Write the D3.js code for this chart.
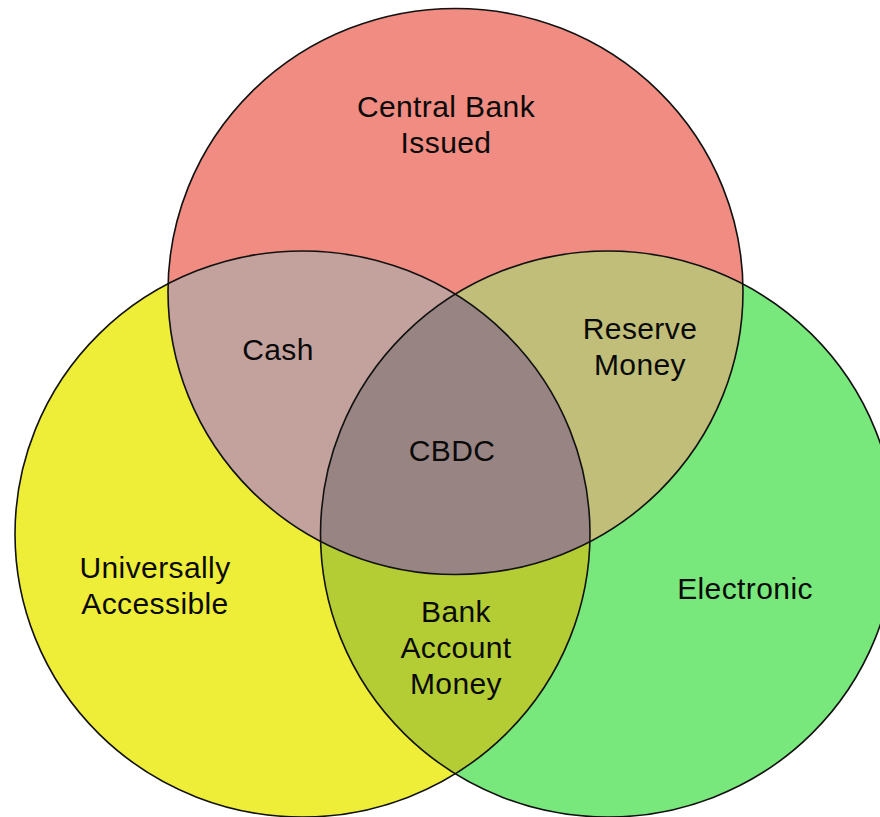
<!DOCTYPE html>
<html>
<head>
<meta charset="utf-8">
<script src="https://cdn.jsdelivr.net/npm/d3@7"></script>
<style>
  html, body { margin: 0; padding: 0; background: #fff; overflow: hidden; }
</style>
</head>
<body>
<div id="chart"></div>
<script>
// sets of the diagram
const setNames = ["Central Bank Issued", "Universally Accessible", "Electronic"];
const setLines = [["Central Bank", "Issued"], ["Universally", "Accessible"], ["Electronic"]];

// overlap regions (indexes into setNames)
const regionSets = [[0, 1], [0, 2], [1, 2], [0, 1, 2]];
const regionLines = [["Cash"], ["Reserve", "Money"], ["Bank", "Account", "Money"], ["CBDC"]];

// colours
const setColors = ["#f08c82", "#eeee38", "#78e87c"];
const regionColors = ["#c3a29e", "#c0be78", "#b4cd34", "#988583"];

// layout, kept apart from the data
const width = 880, height = 817;
const circleLayout = [
  {cx: 455.5, cy: 291.5},
  {cx: 302.5, cy: 534},
  {cx: 608, cy: 534}
];
const rx = 287.5, ry = 283;
const setLabelPos = [{x: 446, y: 117}, {x: 155, y: 578}, {x: 745, y: 599}];
const regionLabelPos = [{x: 278, y: 360}, {x: 640, y: 339}, {x: 456, y: 622}, {x: 452, y: 461}];
const lineHeight = 36;

const svg = d3.select("#chart").append("svg")
  .attr("width", width)
  .attr("height", height);

const defs = svg.append("defs");
circleLayout.forEach((c, i) => {
  defs.append("clipPath")
    .attr("id", "clip" + i)
    .append("ellipse")
    .attr("cx", c.cx).attr("cy", c.cy)
    .attr("rx", rx).attr("ry", ry);
});

// base circles
svg.append("g").selectAll("ellipse")
  .data(circleLayout)
  .enter().append("ellipse")
  .attr("cx", d => d.cx).attr("cy", d => d.cy)
  .attr("rx", rx).attr("ry", ry)
  .style("fill", (d, i) => setColors[i]);

// overlaps, drawn through nested clips
const overlaps = svg.append("g");
regionSets.forEach((s, k) => {
  let g = overlaps;
  for (let j = 0; j < s.length - 1; j++) {
    g = g.append("g").attr("clip-path", "url(#clip" + s[j] + ")");
  }
  const c = circleLayout[s[s.length - 1]];
  g.append("ellipse")
    .attr("cx", c.cx).attr("cy", c.cy)
    .attr("rx", rx).attr("ry", ry)
    .style("fill", regionColors[k]);
});

// outlines
svg.append("g").selectAll("ellipse")
  .data(circleLayout)
  .enter().append("ellipse")
  .attr("cx", d => d.cx).attr("cy", d => d.cy)
  .attr("rx", rx).attr("ry", ry)
  .style("fill", "none")
  .style("stroke", "#111")
  .style("stroke-width", "1.6px");

function addLabel(lines, pos) {
  const t = svg.append("text")
    .attr("x", pos.x)
    .attr("y", pos.y)
    .attr("text-anchor", "middle")
    .style("font-family", "'Liberation Sans', Arial, sans-serif")
    .style("font-size", "30px")
    .style("letter-spacing", "0.4px")
    .style("fill", "#0a0a0a");
  lines.forEach((l, i) => {
    t.append("tspan")
      .attr("x", pos.x)
      .attr("y", pos.y + i * lineHeight)
      .text(l);
  });
}

setLines.forEach((lines, i) => addLabel(lines, setLabelPos[i]));
regionLines.forEach((lines, i) => addLabel(lines, regionLabelPos[i]));
</script>
</body>
</html>
